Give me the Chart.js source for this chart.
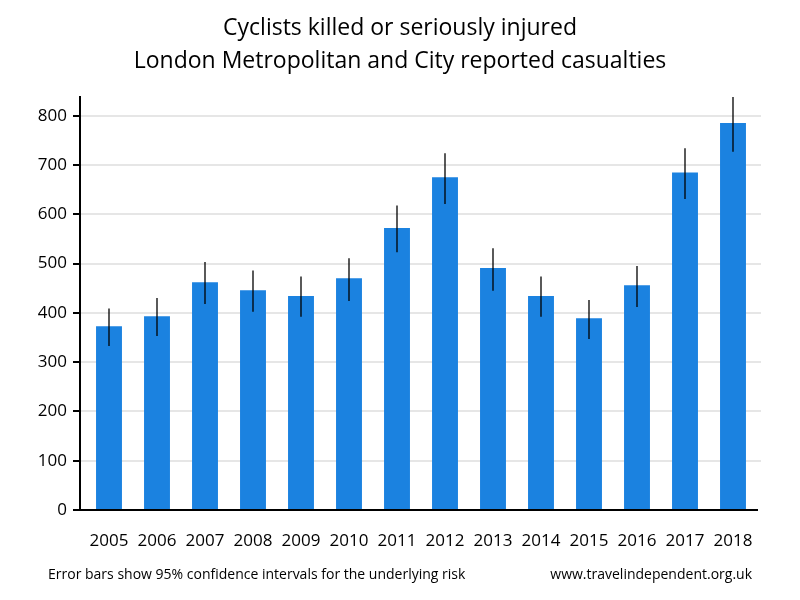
<!DOCTYPE html>
<html>
<head>
<meta charset="utf-8">
<script src="https://cdn.jsdelivr.net/npm/chart.js@4.4.0/dist/chart.umd.min.js"></script>
<style>
  body { margin: 0; background: #fff; }
  #wrap { width: 800px; height: 600px; }
</style>
</head>
<body>
<div id="wrap"><canvas id="canvas" width="800" height="600"></canvas></div>
<script>
let years = ['2005', '2006', '2007', '2008', '2009', '2010', '2011', '2012', '2013', '2014', '2015', '2016', '2017', '2018'];
let casualties = [373, 393, 462, 446, 434, 470, 572, 675, 491, 434, 389, 456, 685, 785];
let errLow = [333, 353, 418, 402, 392, 424, 523, 621, 445, 392, 347, 412, 631, 727];
let errHigh = [409, 430, 503, 486, 474, 511, 618, 724, 531, 474, 426, 495, 734, 838];
let yTicks = [0, 100, 200, 300, 400, 500, 600, 700, 800];
let titleLines = ['Cyclists killed or seriously injured', 'London Metropolitan and City reported casualties'];

let fontName = "'Open Sans', 'Noto Sans', sans-serif";

// title, gridlines, axis lines and error bars drawn through the scales
let extras = {
  id: 'extras',
  beforeDatasetsDraw(chart) {
    let ctx = chart.ctx;
    let area = chart.chartArea;
    let y = chart.scales.y;
    ctx.save();
    ctx.fillStyle = '#000';
    ctx.font = '23px ' + fontName;
    ctx.textAlign = 'center';
    ctx.textBaseline = 'middle';
    ctx.fillText(titleLines[0], chart.width / 2, 28);
    ctx.fillText(titleLines[1], chart.width / 2, 61);

    ctx.strokeStyle = '#e6e6e6';
    ctx.lineWidth = 2;
    yTicks.forEach(function(t) {
      if (t === 0) return;
      let py = Math.round(y.getPixelForValue(t));
      ctx.beginPath();
      ctx.moveTo(area.left - 5, py);
      ctx.lineTo(area.right + 4, py);
      ctx.stroke();
    });
    ctx.restore();
  },
  afterDatasetsDraw(chart) {
    let ctx = chart.ctx;
    let area = chart.chartArea;
    let x = chart.scales.x;
    let y = chart.scales.y;
    ctx.save();
    ctx.strokeStyle = '#000';
    ctx.lineWidth = 1.3;
    for (let i = 0; i < years.length; i++) {
      let px = x.getPixelForValue(i);
      ctx.beginPath();
      ctx.moveTo(px, y.getPixelForValue(errLow[i]));
      ctx.lineTo(px, y.getPixelForValue(errHigh[i]));
      ctx.stroke();
    }
    // axes
    ctx.lineWidth = 2;
    let ax = area.left - 5;
    let y0 = y.getPixelForValue(0);
    ctx.beginPath();
    ctx.moveTo(ax, area.top);
    ctx.lineTo(ax, y0 + 1);
    ctx.moveTo(ax - 7, y0);
    ctx.lineTo(area.right + 1, y0);
    yTicks.forEach(function(t) {
      let py = Math.round(y.getPixelForValue(t));
      ctx.moveTo(ax - 7, py);
      ctx.lineTo(ax, py);
    });
    ctx.stroke();
    // footer
    ctx.fillStyle = '#000';
    ctx.font = '14px ' + fontName;
    ctx.textBaseline = 'middle';
    ctx.textAlign = 'left';
    ctx.fillText('Error bars show 95% confidence intervals for the underlying risk', 48, 575);
    ctx.textAlign = 'right';
    ctx.fillText('www.travelindependent.org.uk', 752, 575);
    ctx.restore();
  }
};

window.onload = function(){
  var ctx = document.getElementById('canvas');
  new Chart(ctx, {
    type: 'bar',
    data: {
      labels: years,
      datasets: [{
        data: casualties,
        backgroundColor: '#1b82e0',
        borderWidth: 0,
        categoryPercentage: 1,
        barPercentage: 0.54
      }]
    },
    options: {
      responsive: false,
      animation: false,
      layout: { padding: { left: 0, right: 43, top: 96, bottom: 40 } },
      plugins: {
        legend: { display: false },
        tooltip: { enabled: false },
        title: { display: false }
      },
      scales: {
        x: {
          grid: { display: false },
          border: { display: false },
          ticks: { color: '#000', padding: 13, font: { family: fontName, size: 17 } },
          afterFit: function(scale) { scale.height = 50; }
        },
        y: {
          min: 0,
          max: 840,
          grid: { display: false, drawTicks: false },
          border: { display: false },
          ticks: { color: '#000', padding: 18, stepSize: 100, font: { family: fontName, size: 17 } },
          afterBuildTicks: function(scale) {
            scale.ticks = yTicks.map(function(v) { return { value: v }; });
          },
          afterFit: function(scale) { scale.width = 85; }
        }
      }
    },
    plugins: [extras]
  });
};
</script>
</body>
</html>
